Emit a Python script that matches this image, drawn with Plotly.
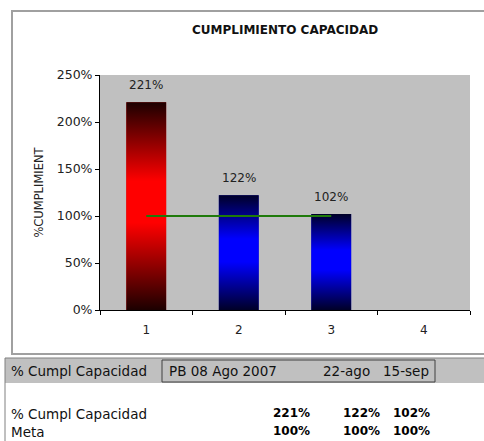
import plotly.graph_objects as go

# ---- data ----
categories = [1, 2, 3, 4]
periods = ["PB 08 Ago 2007", "22-ago", "15-sep"]
cumplimiento = [2.21, 1.22, 1.02]
meta = [1.00, 1.00, 1.00]
row_labels = ["% Cumpl Capacidad", "Meta"]
header_label = "% Cumpl Capacidad"
y_ticks = [0, 0.5, 1.0, 1.5, 2.0, 2.5]

bar_x = categories[:len(cumplimiento)]
BAR_W = 0.43

W, H = 484, 441
L, R, T, B = 100, 14, 75, 131
PW, PH = W - L - R, H - T - B
FONT = "DejaVu Sans"


def px(x):
    return (x - L) / PW


def py(y):
    return (H - B - y) / PH


RED = [[0, "#1c0000"], [0.42, "#ff0000"], [0.62, "#ff0000"], [1, "#1c0000"]]
BLUE = [[0, "#000028"], [0.42, "#0000ff"], [0.62, "#0000ff"], [1, "#000028"]]

fig = go.Figure()

# base bars
fig.add_trace(go.Bar(
    x=bar_x, y=cumplimiento, width=BAR_W,
    marker=dict(color=["#c00000"] + ["#0000c0"] * (len(cumplimiento) - 1), line=dict(width=0)),
    hoverinfo="skip", showlegend=False,
))

# gradient shading over each bar (dark edges, bright centre)
for i, (c, v) in enumerate(zip(bar_x, cumplimiento)):
    h = BAR_W / 2
    fig.add_trace(go.Scatter(
        x=[c - h, c + h, c + h, c - h, c - h],
        y=[0, 0, v, v, 0],
        mode="lines", line=dict(width=0),
        fill="toself",
        fillgradient=dict(type="vertical", colorscale=RED if i == 0 else BLUE),
        hoverinfo="skip", showlegend=False,
    ))

# target line
fig.add_trace(go.Scatter(
    x=bar_x, y=meta, mode="lines",
    line=dict(color="#1f7a0a", width=2),
    hoverinfo="skip", showlegend=False,
))

annotations = []
for c, v in zip(bar_x, cumplimiento):
    annotations.append(dict(
        x=c, y=v, xref="x", yref="y", text=f"{v:.0%}", showarrow=False,
        yanchor="middle", yshift=17, font=dict(family=FONT, size=12, color="#222"),
    ))

annotations.append(dict(
    x=0.5, xref="paper", y=py(30), yref="paper", text="<b>CUMPLIMIENTO CAPACIDAD</b>",
    showarrow=False, xanchor="center", yanchor="middle",
    font=dict(family=FONT, size=12, color="#111"),
))

# data table below the chart
tfont = dict(family=FONT, size=13.5, color="#111")
annotations.append(dict(x=px(9), y=py(371), xref="paper", yref="paper", text=header_label,
                        showarrow=False, xanchor="left", yanchor="middle", font=tfont))
annotations.append(dict(x=px(167), y=py(371), xref="paper", yref="paper", text=periods[0],
                        showarrow=False, xanchor="left", yanchor="middle", font=tfont))
for text, right in zip(periods[1:], [372, 431]):
    annotations.append(dict(x=px(right), y=py(371), xref="paper", yref="paper", text=text,
                            showarrow=False, xanchor="right", yanchor="middle", font=tfont))

rows = [cumplimiento, meta]
row_y = [413, 431]
col_right = [312, 382, 432]
for label, vals, yy in zip(row_labels, rows, row_y):
    annotations.append(dict(x=px(9), y=py(yy + 1), xref="paper", yref="paper", text=label,
                            showarrow=False, xanchor="left", yanchor="middle", font=tfont))
    for v, xr in zip(vals, col_right):
        annotations.append(dict(x=px(xr), y=py(yy), xref="paper", yref="paper",
                                text=f"<b>{v:.0%}</b>", showarrow=False,
                                xanchor="right", yanchor="middle",
                                font=dict(family=FONT, size=12, color="#000")))

shapes = [
    # chart frame
    dict(type="rect", xref="paper", yref="paper", x0=px(12), x1=px(500), y0=py(11), y1=py(354),
         line=dict(color="#a0a0a0", width=2), fillcolor="rgba(0,0,0,0)", layer="below"),
    # table header band
    dict(type="rect", xref="paper", yref="paper", x0=px(5), x1=px(500), y0=py(358), y1=py(383),
         line=dict(width=0), fillcolor="#c0c0c0", layer="below"),
    dict(type="line", xref="paper", yref="paper", x0=px(5), x1=px(500), y0=py(358), y1=py(358),
         line=dict(color="#808080", width=1)),
    dict(type="rect", xref="paper", yref="paper", x0=px(162), x1=px(435), y0=py(360), y1=py(382),
         line=dict(color="#404040", width=1), fillcolor="rgba(0,0,0,0)"),
    dict(type="line", xref="paper", yref="paper", x0=px(5), x1=px(5), y0=py(358), y1=py(445),
         line=dict(color="#808080", width=1)),
]

fig.update_layout(
    width=W, height=H,
    margin=dict(l=L, r=R, t=T, b=B, autoexpand=False),
    paper_bgcolor="white", plot_bgcolor="#c0c0c0",
    showlegend=False,
    annotations=annotations, shapes=shapes,
    font=dict(family=FONT, size=12, color="#222"),
)
fig.update_xaxes(
    range=[0.5, 4.5], tickmode="array", tickvals=categories,
    ticktext=[str(c) for c in categories],
    ticks="outside", ticklen=9, tickcolor="rgba(0,0,0,0)",
    minor=dict(tickmode="array", tickvals=[c - 0.5 for c in categories] + [categories[-1] + 0.5],
               ticks="outside", ticklen=4, tickcolor="#000", tickwidth=1),
    showline=True, linecolor="#000", linewidth=1, showgrid=False, zeroline=False,
    tickfont=dict(family=FONT, size=12, color="#222"),
    fixedrange=True,
)
fig.update_yaxes(
    range=[0, 2.5], tickmode="array", tickvals=y_ticks, tickformat=".0%",
    ticks="outside", ticklen=4, tickcolor="#000",
    showline=True, linecolor="#000", linewidth=1, showgrid=False, zeroline=False,
    tickfont=dict(family=FONT, size=12.5, color="#222"),
    title=dict(text="%CUMPLIMIENT", standoff=10, font=dict(family=FONT, size=11.5, color="#222")),
    fixedrange=True,
)

fig.write_html("out.html", config={"displayModeBar": False})
